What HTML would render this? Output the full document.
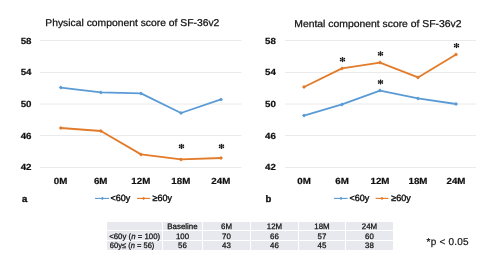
<!DOCTYPE html>
<html><head><meta charset="utf-8">
<style>
html,body{margin:0;padding:0;background:#fff;}
body{width:499px;height:266px;overflow:hidden;position:relative;font-family:"Liberation Sans",sans-serif;}
svg{position:absolute;left:0;top:0;will-change:transform;}
svg text{font-family:"Liberation Sans",sans-serif;text-rendering:geometricPrecision;}
.ax{font-weight:bold;font-size:8.9px;fill:#111;stroke:#111;stroke-width:0.2px;}
.ttl{font-size:9.9px;fill:#111;stroke:#111;stroke-width:0.25px;}
.lg{font-size:9px;fill:#111;stroke:#111;stroke-width:0.4px;}
.grid{stroke:#eaeaea;stroke-width:1;}
.bl{stroke:#5b9bd5;stroke-width:1.8;fill:none;stroke-linejoin:round;}
.or{stroke:#e27b2a;stroke-width:1.8;fill:none;stroke-linejoin:round;}
.mb{fill:#5b9bd5;}
.mo{fill:#e27b2a;}
.tb{font-size:7.9px;fill:#111;stroke:#111;stroke-width:0.25px;}
</style></head><body>
<svg width="499" height="266" viewBox="0 0 499 266">

<g transform="translate(0,26.2) scale(1,1.0) translate(0,-26.2)"><text class="ttl" x="45.3" y="26.2" textLength="174" lengthAdjust="spacingAndGlyphs">Physical component score of SF-36v2</text></g>
<g transform="translate(0,26.9) scale(1,1.0) translate(0,-26.9)"><text class="ttl" x="294.3" y="26.9" textLength="167.2" lengthAdjust="spacingAndGlyphs">Mental component score of SF-36v2</text></g>
<g class="grid">
<line x1="40" y1="40.5" x2="241.5" y2="40.5"/>
<line x1="285" y1="40.5" x2="476" y2="40.5"/>
<line x1="40" y1="72.5" x2="241.5" y2="72.5"/>
<line x1="285" y1="72.5" x2="476" y2="72.5"/>
<line x1="40" y1="104.0" x2="241.5" y2="104.0"/>
<line x1="285" y1="104.0" x2="476" y2="104.0"/>
<line x1="40" y1="135.5" x2="241.5" y2="135.5"/>
<line x1="285" y1="135.5" x2="476" y2="135.5"/>
<line x1="40" y1="167.5" x2="241.5" y2="167.5"/>
<line x1="285" y1="167.5" x2="476" y2="167.5"/>
</g>
<g class="ax" text-anchor="end">
<text transform="translate(31.5,44.00) scale(1.1,1)">58</text>
<text transform="translate(275.9,44.00) scale(1.1,1)">58</text>
<text transform="translate(31.5,75.00) scale(1.1,1)">54</text>
<text transform="translate(275.9,75.00) scale(1.1,1)">54</text>
<text transform="translate(31.5,107.00) scale(1.1,1)">50</text>
<text transform="translate(275.9,107.00) scale(1.1,1)">50</text>
<text transform="translate(31.5,138.90) scale(1.1,1)">46</text>
<text transform="translate(275.9,138.90) scale(1.1,1)">46</text>
<text transform="translate(31.5,170.00) scale(1.1,1)">42</text>
<text transform="translate(275.9,170.00) scale(1.1,1)">42</text>
</g>
<g class="ax" text-anchor="middle">
<text transform="translate(60.599999999999994,184.0) scale(1.1,1)">0M</text>
<text transform="translate(100.7,184.0) scale(1.1,1)">6M</text>
<text transform="translate(140.8,184.0) scale(1.1,1)">12M</text>
<text transform="translate(180.8,184.0) scale(1.1,1)">18M</text>
<text transform="translate(220.8,184.0) scale(1.1,1)">24M</text>
<text transform="translate(304,184.0) scale(1.1,1)">0M</text>
<text transform="translate(342,184.0) scale(1.1,1)">6M</text>
<text transform="translate(380,184.0) scale(1.1,1)">12M</text>
<text transform="translate(418,184.0) scale(1.1,1)">18M</text>
<text transform="translate(456,184.0) scale(1.1,1)">24M</text>
</g>
<polyline class="bl" points="60.8,87.6 100.9,92.4 141,93.4 181,113 221,99.4"/>
<polyline class="or" points="60.8,128 100.9,131 141,154.4 181,159.4 221,158"/>
<polyline class="bl" points="304,115.6 342,104.4 380,90.6 418,98.4 456,104"/>
<polyline class="or" points="304,87 342,68.4 380,62.6 418,77.4 456,54.4"/>
<g class="mb">
<path d="M60.80,85.60L62.80,87.60L60.80,89.60L58.80,87.60Z"/>
<path d="M100.90,90.40L102.90,92.40L100.90,94.40L98.90,92.40Z"/>
<path d="M141.00,91.40L143.00,93.40L141.00,95.40L139.00,93.40Z"/>
<path d="M181.00,111.00L183.00,113.00L181.00,115.00L179.00,113.00Z"/>
<path d="M221.00,97.40L223.00,99.40L221.00,101.40L219.00,99.40Z"/>
<path d="M304.00,113.60L306.00,115.60L304.00,117.60L302.00,115.60Z"/>
<path d="M342.00,102.40L344.00,104.40L342.00,106.40L340.00,104.40Z"/>
<path d="M380.00,88.60L382.00,90.60L380.00,92.60L378.00,90.60Z"/>
<path d="M418.00,96.40L420.00,98.40L418.00,100.40L416.00,98.40Z"/>
<path d="M456.00,102.00L458.00,104.00L456.00,106.00L454.00,104.00Z"/>
<path d="M102.40,196.70L104.10,198.40L102.40,200.10L100.70,198.40Z"/>
<path d="M341.00,196.70L342.70,198.40L341.00,200.10L339.30,198.40Z"/>
</g><g class="mo">
<path d="M60.80,126.00L62.80,128.00L60.80,130.00L58.80,128.00Z"/>
<path d="M100.90,129.00L102.90,131.00L100.90,133.00L98.90,131.00Z"/>
<path d="M141.00,152.40L143.00,154.40L141.00,156.40L139.00,154.40Z"/>
<path d="M181.00,157.40L183.00,159.40L181.00,161.40L179.00,159.40Z"/>
<path d="M221.00,156.00L223.00,158.00L221.00,160.00L219.00,158.00Z"/>
<path d="M304.00,85.00L306.00,87.00L304.00,89.00L302.00,87.00Z"/>
<path d="M342.00,66.40L344.00,68.40L342.00,70.40L340.00,68.40Z"/>
<path d="M380.00,60.60L382.00,62.60L380.00,64.60L378.00,62.60Z"/>
<path d="M418.00,75.40L420.00,77.40L418.00,79.40L416.00,77.40Z"/>
<path d="M456.00,52.40L458.00,54.40L456.00,56.40L454.00,54.40Z"/>
<path d="M143.60,196.70L145.30,198.40L143.60,200.10L141.90,198.40Z"/>
<path d="M382.00,196.70L383.70,198.40L382.00,200.10L380.30,198.40Z"/>
</g>
<g stroke="#111" stroke-width="0.75" stroke-linecap="round" fill="none">
<path d="M181.50,144.65V148.15M179.58,145.42L183.42,147.38M179.58,147.38L183.42,145.42"/><circle cx="181.50" cy="144.65" r="0.8" fill="#111" stroke="none"/><circle cx="181.50" cy="148.15" r="0.8" fill="#111" stroke="none"/><circle cx="179.58" cy="145.42" r="0.8" fill="#111" stroke="none"/><circle cx="183.42" cy="147.38" r="0.8" fill="#111" stroke="none"/><circle cx="179.58" cy="147.38" r="0.8" fill="#111" stroke="none"/><circle cx="183.42" cy="145.42" r="0.8" fill="#111" stroke="none"/>
<path d="M221.50,144.65V148.15M219.58,145.42L223.42,147.38M219.58,147.38L223.42,145.42"/><circle cx="221.50" cy="144.65" r="0.8" fill="#111" stroke="none"/><circle cx="221.50" cy="148.15" r="0.8" fill="#111" stroke="none"/><circle cx="219.58" cy="145.42" r="0.8" fill="#111" stroke="none"/><circle cx="223.42" cy="147.38" r="0.8" fill="#111" stroke="none"/><circle cx="219.58" cy="147.38" r="0.8" fill="#111" stroke="none"/><circle cx="223.42" cy="145.42" r="0.8" fill="#111" stroke="none"/>
<path d="M342.50,57.85V61.35M340.58,58.62L344.42,60.58M340.58,60.58L344.42,58.62"/><circle cx="342.50" cy="57.85" r="0.8" fill="#111" stroke="none"/><circle cx="342.50" cy="61.35" r="0.8" fill="#111" stroke="none"/><circle cx="340.58" cy="58.62" r="0.8" fill="#111" stroke="none"/><circle cx="344.42" cy="60.58" r="0.8" fill="#111" stroke="none"/><circle cx="340.58" cy="60.58" r="0.8" fill="#111" stroke="none"/><circle cx="344.42" cy="58.62" r="0.8" fill="#111" stroke="none"/>
<path d="M380.50,52.05V55.55M378.58,52.82L382.42,54.78M378.58,54.78L382.42,52.82"/><circle cx="380.50" cy="52.05" r="0.8" fill="#111" stroke="none"/><circle cx="380.50" cy="55.55" r="0.8" fill="#111" stroke="none"/><circle cx="378.58" cy="52.82" r="0.8" fill="#111" stroke="none"/><circle cx="382.42" cy="54.78" r="0.8" fill="#111" stroke="none"/><circle cx="378.58" cy="54.78" r="0.8" fill="#111" stroke="none"/><circle cx="382.42" cy="52.82" r="0.8" fill="#111" stroke="none"/>
<path d="M380.50,80.25V83.75M378.58,81.02L382.42,82.98M378.58,82.98L382.42,81.02"/><circle cx="380.50" cy="80.25" r="0.8" fill="#111" stroke="none"/><circle cx="380.50" cy="83.75" r="0.8" fill="#111" stroke="none"/><circle cx="378.58" cy="81.02" r="0.8" fill="#111" stroke="none"/><circle cx="382.42" cy="82.98" r="0.8" fill="#111" stroke="none"/><circle cx="378.58" cy="82.98" r="0.8" fill="#111" stroke="none"/><circle cx="382.42" cy="81.02" r="0.8" fill="#111" stroke="none"/>
<path d="M456.50,43.85V47.35M454.58,44.62L458.42,46.58M454.58,46.58L458.42,44.62"/><circle cx="456.50" cy="43.85" r="0.8" fill="#111" stroke="none"/><circle cx="456.50" cy="47.35" r="0.8" fill="#111" stroke="none"/><circle cx="454.58" cy="44.62" r="0.8" fill="#111" stroke="none"/><circle cx="458.42" cy="46.58" r="0.8" fill="#111" stroke="none"/><circle cx="454.58" cy="46.58" r="0.8" fill="#111" stroke="none"/><circle cx="458.42" cy="44.62" r="0.8" fill="#111" stroke="none"/>
</g>
<text x="22" y="201.8" style="font-weight:bold;font-size:9.5px;fill:#111;stroke:#111;stroke-width:0.35px">a</text>
<text x="265.5" y="202" style="font-weight:bold;font-size:9.5px;fill:#111;stroke:#111;stroke-width:0.35px">b</text>
<line x1="95" y1="198.4" x2="109" y2="198.4" class="bl" style="stroke-width:1.1"/>
<line x1="137" y1="198.4" x2="150" y2="198.4" class="or" style="stroke-width:1.1"/>
<text class="lg" x="110.6" y="201.3">&lt;60y</text>
<text class="lg" x="152.5" y="201.3">≥60y</text>
<line x1="334" y1="198.4" x2="347.6" y2="198.4" class="bl" style="stroke-width:1.1"/>
<line x1="375.6" y1="198.4" x2="388.4" y2="198.4" class="or" style="stroke-width:1.1"/>
<text class="lg" x="349.4" y="201.3">&lt;60y</text>
<text class="lg" x="391.3" y="201.3">≥60y</text>
<text x="426.6" y="244.6" style="font-size:10px;fill:#111;letter-spacing:0.2px;stroke:#111;stroke-width:0.2px">*p &lt; 0.05</text>
<g fill="#e8e9ee">
<rect x="107" y="222" width="55" height="8"/>
<rect x="107" y="231" width="55" height="9"/>
<rect x="107" y="241" width="55" height="9"/>
<rect x="163" y="222" width="39" height="8"/>
<rect x="163" y="231" width="39" height="9"/>
<rect x="163" y="241" width="39" height="9"/>
<rect x="203" y="222" width="47" height="8"/>
<rect x="203" y="231" width="47" height="9"/>
<rect x="203" y="241" width="47" height="9"/>
<rect x="251" y="222" width="47" height="8"/>
<rect x="251" y="231" width="47" height="9"/>
<rect x="251" y="241" width="47" height="9"/>
<rect x="299" y="222" width="46" height="8"/>
<rect x="299" y="231" width="46" height="9"/>
<rect x="299" y="241" width="46" height="9"/>
<rect x="346" y="222" width="47" height="8"/>
<rect x="346" y="231" width="47" height="9"/>
<rect x="346" y="241" width="47" height="9"/>
</g>
<g class="tb" text-anchor="middle">
<text x="182.5" y="228.9">Baseline</text>
<text x="182.5" y="238.9">100</text>
<text x="182.5" y="247.9">56</text>
<text x="226.5" y="228.9">6M</text>
<text x="226.5" y="238.9">70</text>
<text x="226.5" y="247.9">43</text>
<text x="274.5" y="228.9">12M</text>
<text x="274.5" y="238.9">66</text>
<text x="274.5" y="247.9">46</text>
<text x="322.0" y="228.9">18M</text>
<text x="322.0" y="238.9">57</text>
<text x="322.0" y="247.9">45</text>
<text x="369.5" y="228.9">24M</text>
<text x="369.5" y="238.9">60</text>
<text x="369.5" y="247.9">38</text>
</g>
<text class="tb" x="109.2" y="238.9" textLength="51" lengthAdjust="spacingAndGlyphs">&lt;60y (<tspan font-style="italic">n</tspan> = 100)</text>
<text class="tb" x="109.8" y="247.9" textLength="44.6" lengthAdjust="spacingAndGlyphs">60y≤ (<tspan font-style="italic">n</tspan> = 56)</text>
</svg>
</body></html>
